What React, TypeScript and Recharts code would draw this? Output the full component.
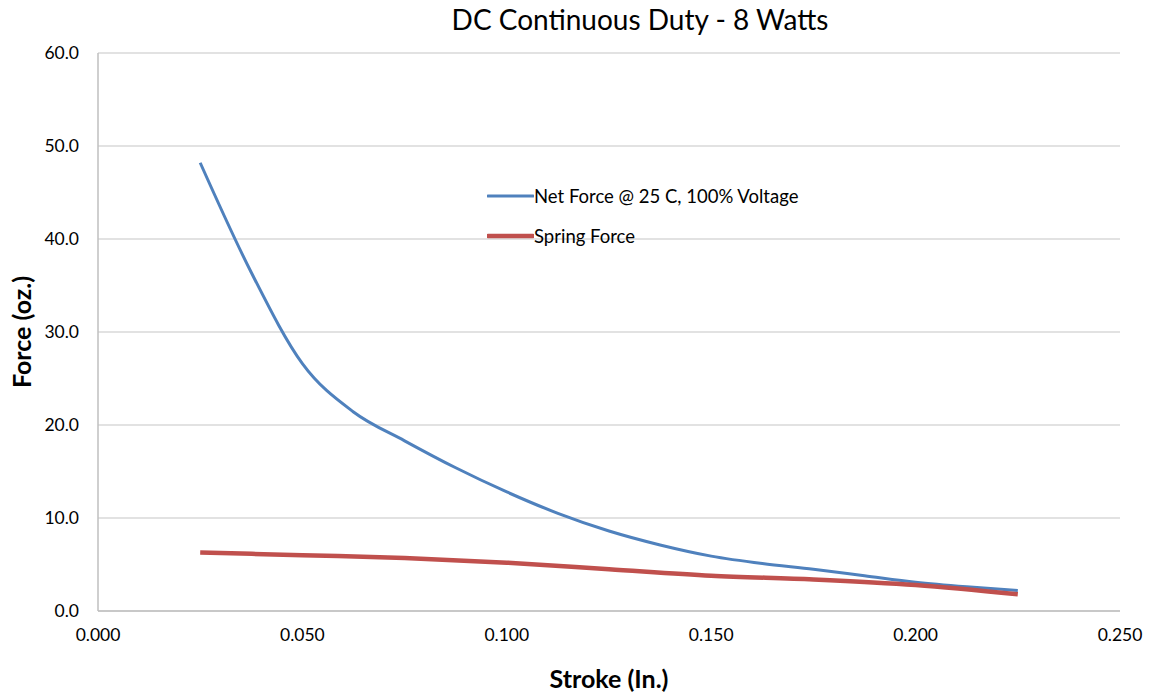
import { LineChart, Line, XAxis, YAxis, CartesianGrid } from 'recharts';

const netStroke = [0.025, 0.0375, 0.05, 0.0625, 0.075, 0.0875, 0.1, 0.1125, 0.125, 0.1375, 0.15, 0.1625, 0.175, 0.1875, 0.2, 0.2125, 0.225];
const netForce = [48.2, 36.4, 26.6, 21.4, 18.3, 15.4, 12.8, 10.5, 8.6, 7.1, 5.9, 5.1, 4.5, 3.8, 3.1, 2.6, 2.2];

const springStroke = [0.025, 0.05, 0.075, 0.1, 0.125, 0.15, 0.175, 0.2, 0.225];
const springForce = [6.3, 6.0, 5.7, 5.2, 4.5, 3.8, 3.4, 2.8, 1.8];

const xTicks = [0, 0.05, 0.1, 0.15, 0.2, 0.25];
const yTicks = [0, 10, 20, 30, 40, 50, 60];

const netData = netStroke.map((x, i) => ({ x, net: netForce[i] }));
const springData = springStroke.map((x, i) => ({ x, spring: springForce[i] }));

const FONT = 'Lato, "Open Sans", sans-serif';
const BLUE = '#4F81BD';
const RED = '#C0504D';

const legendItems = [
  { label: 'Net Force @ 25 C, 100% Voltage', color: BLUE, w: 3 },
  { label: 'Spring Force', color: RED, w: 4.5 },
];

function LegendBox() {
  return (
    <div style={{ position: 'absolute', left: 487, top: 176, fontFamily: FONT, fontSize: 18.5, color: '#000' }}>
      {legendItems.map((it) => (
        <div key={it.label} style={{ display: 'flex', alignItems: 'center', height: 40 }}>
          <svg width={47} height={10}>
            <line x1={1} y1={5} x2={46} y2={5} stroke={it.color} strokeWidth={it.w} strokeLinecap="round" />
          </svg>
          <span>{it.label}</span>
        </div>
      ))}
    </div>
  );
}

export default function App() {
  return (
    <div style={{ position: 'absolute', left: 0, top: 0, width: 1149, height: 694, background: '#fff' }}>
      <div
        style={{
          position: 'absolute',
          top: 2,
          left: 0,
          width: 1280,
          textAlign: 'center',
          fontFamily: FONT,
          fontSize: 28,
          color: '#000',
        }}
      >
        DC Continuous Duty - 8 Watts
      </div>
      <LineChart width={1149} height={694} margin={{ top: 53, right: 29, bottom: 0, left: 0 }}>
        <CartesianGrid horizontal vertical={false} stroke="#d9d9d9" strokeWidth={1.5} />
        <XAxis
          type="number"
          dataKey="x"
          height={83}
          domain={[0, 0.25]}
          ticks={xTicks}
          tickFormatter={(v: number) => v.toFixed(3)}
          tickLine={false}
          tickSize={0}
          tickMargin={18}
          axisLine={{ stroke: '#bfbfbf', strokeWidth: 1.5 }}
          tick={{ fill: '#000', fontSize: 17.5, fontFamily: FONT }}
          allowDuplicatedCategory={false}
          label={{ value: 'Stroke (In.)', position: 'insideBottom', offset: 6, fill: '#000', fontSize: 25, fontWeight: 'bold', fontFamily: FONT }}
        />
        <YAxis
          type="number"
          width={98}
          domain={[0, 60]}
          ticks={yTicks}
          tickFormatter={(v: number) => v.toFixed(1)}
          tickLine={false}
          tickSize={0}
          tickMargin={19}
          axisLine={{ stroke: '#bfbfbf', strokeWidth: 1.5 }}
          tick={{ fill: '#000', fontSize: 17.5, fontFamily: FONT }}
          label={{ value: 'Force (oz.)', angle: -90, position: 'insideLeft', offset: 22, fill: '#000', fontSize: 25, fontWeight: 'bold', fontFamily: FONT, style: { textAnchor: 'middle' } }}
        />
        <Line
          data={netData}
          type="monotone"
          dataKey="net"
          stroke={BLUE}
          strokeWidth={3}
          dot={false}
          isAnimationActive={false}
        />
        <Line
          data={springData}
          type="monotone"
          dataKey="spring"
          stroke={RED}
          strokeWidth={4.5}
          dot={false}
          isAnimationActive={false}
        />
      </LineChart>
      <LegendBox />
    </div>
  );
}
